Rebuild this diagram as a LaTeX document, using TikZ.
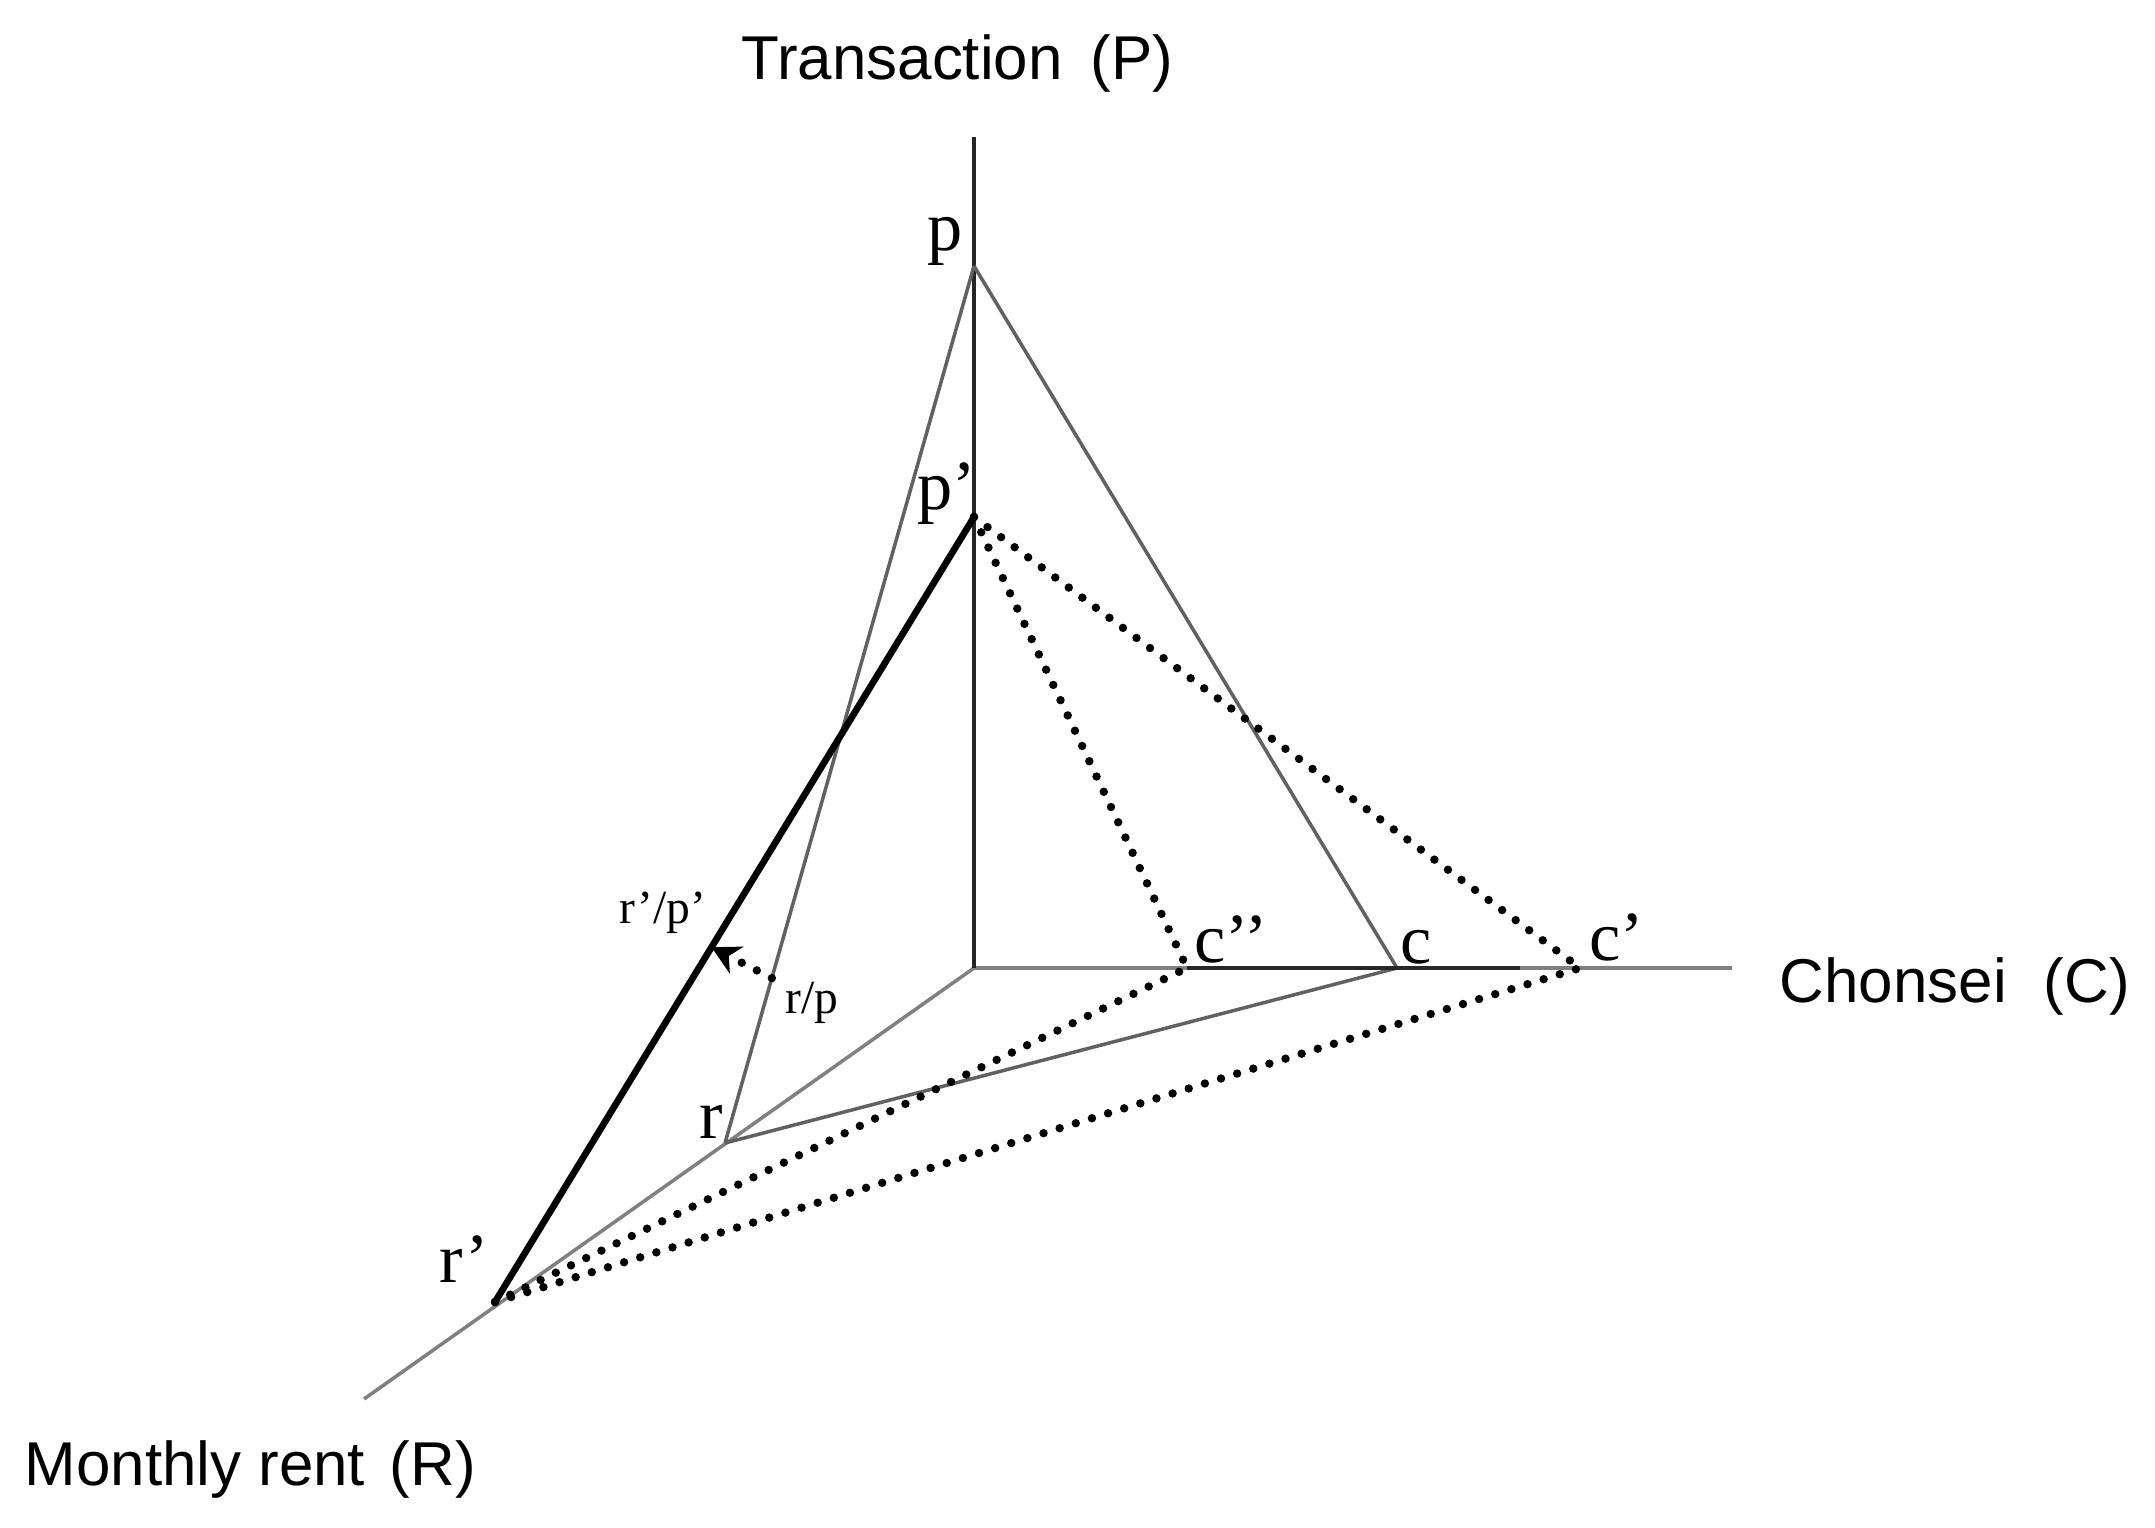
\documentclass[tikz,border=0pt]{standalone}
\usepackage{fontspec}
\setmainfont{Liberation Serif}
\newfontfamily\axisfont{Liberation Sans}
\usetikzlibrary{arrows.meta,calc}
\begin{document}
\begin{tikzpicture}[x=0.01cm,y=-0.01cm,
 axislbl/.style={font=\axisfont\fontsize{17.6pt}{20pt}\selectfont, inner sep=0pt, anchor=base west},
 ptlbl/.style={font=\fontsize{20pt}{24pt}\selectfont, inner sep=0pt, anchor=base},
 ratiolbl/.style={font=\fontsize{13.5pt}{16pt}\selectfont, inner sep=0pt, anchor=base},
 thinaxis/.style={draw=black!50, line width=1pt},
 mainaxis/.style={draw=black!85, line width=1.3pt},
 darkseg/.style={draw=black!85, line width=1.1pt},
 faceline/.style={draw=black!62, line width=1pt},
 boldline/.style={draw=black, line width=1.9pt},
 dotline/.style={draw=black, line width=2.4pt, line cap=round, dash pattern=on 0pt off 4.8pt},
]
\useasboundingbox (0,0) rectangle (2155,1527);
% points
\coordinate (O) at (974,968);
\coordinate (Ptop) at (974,137);
\coordinate (p) at (974,266);
\coordinate (pp) at (974,517);
\coordinate (Cend) at (1732,968);
\coordinate (cpp) at (1187,968);
\coordinate (c) at (1397,968);
\coordinate (cp) at (1580,968);
\coordinate (Cdark) at (1520,968);
\coordinate (Rend) at (364,1399);
\coordinate (r) at (725,1143);
\coordinate (rp) at (495,1302);
\coordinate (rpt) at ($(r)!0.188!(p)$);
\coordinate (rppt) at ($(rp)!0.452!(pp)$);
% axes
\draw[thinaxis] (O) -- (Cend);
\draw[thinaxis] (O) -- (Rend);
\draw[mainaxis] (O) -- (Ptop);
% first triangle
\draw[faceline] (p) -- (c);
\draw[faceline] (c) -- (r);
\draw[faceline] (r) -- (p);
\draw[darkseg] (cpp) -- (Cdark);
% second plane
\draw[boldline] (rp) -- (pp);
\draw[dotline] (pp) -- (cpp);
\draw[dotline] (pp) -- (cp);
\draw[dotline] (rp) -- (cpp);
\draw[dotline] (rp) -- (cp);
\draw[dotline, -{Stealth[length=8pt, width=8.5pt, inset=2.5pt]}] (rpt) -- (rppt);
% axis labels
\node[axislbl] (tP) at (741,79) {Transaction\hspace{0.45em}(P)};
\node[axislbl] (tC) at (1779,1002) {Chonsei\hspace{0.6em}(C)};
\node[axislbl] (tR) at (24,1485) {Monthly rent\hspace{0.4em}(R)};
% point labels
\node[ptlbl] (lp) at (945,250) {p};
\node[ptlbl] (lpp) at (947,509) {p’};
\node[ptlbl] (lcpp) at (1231,962) {c’’};
\node[ptlbl] (lc) at (1416,963) {c};
\node[ptlbl] (lcp) at (1617,960) {c’};
\node[ptlbl] (lr) at (711,1138) {r};
\node[ptlbl] (lrp) at (464,1282) {r’};
\node[ratiolbl] (lrppp) at (663,923) {r’/p’};
\node[ratiolbl] (lrpp) at (812,1013) {r/p};
\end{tikzpicture}
\end{document}
